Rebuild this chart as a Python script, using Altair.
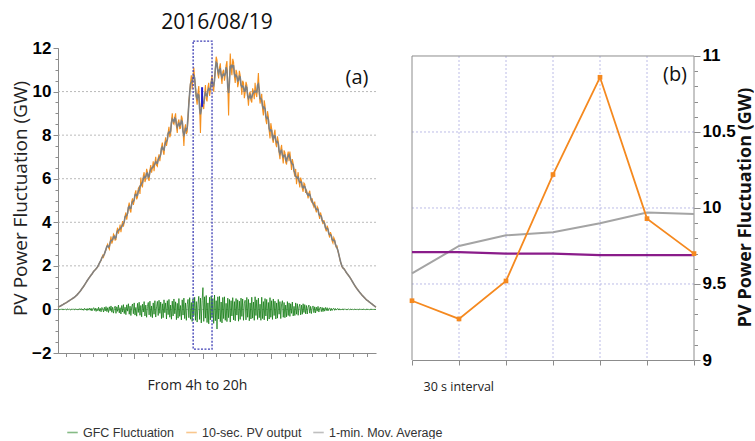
import altair as alt
import pandas as pd

# ---------------- left panel data (4h -> 20h, 2.5-min samples) ----------------
pv_10s = [
    0.10, 0.12, 0.14, 0.16, 0.18, 0.20, 0.22, 0.25, 0.27, 0.29, 0.31, 0.34, 0.36, 0.39, 0.41, 0.44, 0.46, 0.49, 0.51, 0.54,
    0.56, 0.60, 0.63, 0.67, 0.71, 0.76, 0.80, 0.85, 0.90, 0.96, 1.01, 1.06, 1.13, 1.18, 1.24, 1.31, 1.36, 1.42, 1.47, 1.53,
    1.58, 1.62, 1.68, 1.75, 1.78, 1.83, 1.86, 1.92, 1.95, 2.06, 2.12, 2.20, 2.25, 2.38, 2.48, 2.40, 2.56, 2.66, 2.74, 2.92,
    3.00, 2.84, 2.76, 3.12, 3.35, 3.02, 3.15, 3.46, 3.40, 3.18, 3.20, 3.58, 3.75, 3.48, 3.65, 3.90, 3.55, 3.82, 4.05, 3.80,
    4.00, 4.30, 4.45, 4.12, 4.40, 4.72, 4.90, 4.55, 4.45, 4.95, 5.10, 4.80, 4.98, 5.32, 5.47, 5.05, 5.15, 5.55, 5.62, 5.30,
    6.05, 5.72, 5.60, 6.12, 6.30, 5.85, 5.98, 6.45, 6.30, 6.02, 5.90, 6.40, 6.63, 6.28, 6.49, 6.80, 6.34, 6.70, 7.00, 6.62,
    6.57, 6.95, 7.12, 6.80, 7.11, 7.45, 7.66, 7.25, 7.10, 7.62, 7.90, 7.50, 7.74, 8.12, 8.38, 7.90, 8.03, 8.65, 9.00, 8.55,
    8.50, 8.82, 9.00, 8.40, 8.10, 8.60, 8.72, 8.30, 8.32, 8.90, 8.77, 8.20, 7.50, 8.30, 8.50, 8.05, 8.15, 8.80, 9.55, 9.90,
    10.40, 10.75, 10.10, 10.65, 11.10, 10.55, 10.20, 9.70, 9.40, 9.95, 10.25, 9.30, 8.10, 9.45, 9.90, 9.35, 9.20, 9.85, 10.30, 9.65,
    9.55, 10.20, 10.40, 9.80, 10.05, 10.50, 10.75, 10.25, 10.00, 10.60, 10.95, 11.60, 11.45, 10.80, 10.60, 11.10, 11.30, 10.70, 10.35, 10.90,
    11.00, 10.50, 10.75, 11.20, 11.40, 10.30, 8.90, 10.60, 11.75, 11.10, 10.75, 11.50, 11.35, 10.70, 10.40, 11.00, 10.85, 10.20, 10.40, 10.95,
    10.75, 10.30, 9.85, 10.50, 10.40, 9.70, 9.95, 10.45, 10.30, 9.80, 9.35, 9.90, 10.00, 9.60, 9.50, 10.15, 10.00, 9.65, 10.40, 9.90,
    9.75, 10.30, 10.85, 9.90, 9.45, 9.70, 9.90, 9.20, 8.90, 9.60, 9.35, 8.70, 8.50, 9.10, 8.85, 8.20, 7.85, 8.55, 8.30, 7.80,
    7.65, 8.05, 8.25, 7.60, 7.45, 7.95, 7.70, 7.20, 6.90, 7.35, 7.55, 7.00, 6.70, 7.30, 7.20, 6.75, 6.65, 7.05, 7.25, 6.80,
    7.25, 6.85, 6.40, 6.90, 6.70, 6.30, 6.10, 6.45, 5.75, 6.05, 6.30, 5.85, 5.60, 6.05, 5.90, 5.55, 5.40, 5.80, 5.75, 5.35,
    5.50, 5.30, 5.10, 5.35, 5.45, 5.05, 4.95, 5.10, 4.80, 4.70, 4.95, 4.60, 4.45, 4.72, 4.65, 4.35, 4.15, 4.45, 4.30, 4.05,
    3.92, 4.10, 3.97, 3.70, 3.58, 3.85, 3.73, 3.45, 3.30, 3.55, 3.43, 3.15, 3.05, 3.30, 3.20, 2.95, 2.85, 2.90, 2.68, 2.55,
    2.38, 2.20, 2.08, 1.96, 1.90, 1.88, 1.84, 1.76, 1.70, 1.65, 1.60, 1.55, 1.50, 1.44, 1.38, 1.31, 1.25, 1.18, 1.12, 1.06,
    1.00, 0.95, 0.90, 0.85, 0.80, 0.75, 0.71, 0.66, 0.62, 0.58, 0.54, 0.50, 0.46, 0.43, 0.40, 0.37, 0.34, 0.31, 0.28, 0.25,
    0.22, 0.19, 0.16, 0.13, 0.10,
]

gfc = [
    0.00, 0.01, -0.01, 0.00, 0.01, -0.01, 0.02, -0.01, 0.00, 0.01, -0.02, 0.01, 0.02, -0.01, 0.01, -0.02, 0.00, 0.02, -0.01, 0.01,
    -0.02, 0.03, -0.01, 0.02, -0.03, 0.01, 0.03, -0.02, 0.04, -0.03, 0.02, -0.04, 0.05, -0.02, 0.03, -0.05, 0.04, -0.03, 0.06, -0.04,
    0.05, -0.07, 0.03, 0.08, -0.05, 0.06, -0.09, 0.04, -0.06, 0.10, -0.08, 0.05, -0.11, 0.09, 0.03, -0.12, 0.10, -0.07, 0.13, -0.10,
    0.08, -0.14, 0.12, -0.06, 0.16, -0.13, 0.10, -0.17, 0.05, 0.15, -0.18, 0.12, -0.09, 0.20, -0.16, 0.08, -0.21, 0.18, -0.12, 0.22,
    -0.19, 0.10, -0.24, 0.21, -0.08, 0.26, -0.22, 0.15, -0.28, 0.12, 0.25, -0.20, 0.30, -0.26, 0.09, -0.31, 0.28, -0.14, 0.33, -0.27,
    0.18, -0.34, 0.24, -0.12, 0.36, -0.30, 0.20, -0.36, 0.14, 0.32, -0.25, 0.38, -0.33, 0.16, -0.38, 0.30, -0.22, 0.40, -0.35, 0.12,
    0.37, -0.28, 0.42, -0.18, 0.34, -0.42, 0.26, -0.38, 0.44, -0.15, 0.30, -0.44, 0.40, -0.24, 0.46, -0.36, 0.20, -0.45, 0.38, -0.30,
    0.48, -0.20, 0.35, -0.47, 0.28, -0.40, 0.50, -0.32, 0.18, -0.48, 0.44, -0.26, 0.52, -0.42, 0.30, -0.50, 0.22, 0.46, -0.38, 0.54,
    -0.45, 0.32, -0.55, 0.48, -0.28, 0.56, -0.50, 0.36, -0.58, 0.24, 0.60, -0.46, 0.52, -0.62, 0.40, 1.00, -0.55, 0.58, -0.40, 0.64,
    -0.60, 0.30, -0.66, 0.56, -0.48, 0.62, -0.35, 0.50, -0.64, 0.66, -0.52, 0.40, -0.90, 0.58, -0.44, 0.60, -0.56, 0.34, -0.62, 0.55,
    -0.42, 0.58, -0.50, 0.28, -0.56, 0.52, -0.38, 0.46, -0.58, 0.40, -0.30, 0.54, -0.48, 0.36, -0.52, 0.50, -0.26, 0.44, -0.54, 0.38,
    -0.46, 0.52, -0.32, 0.48, -0.50, 0.26, 0.42, -0.48, 0.55, -0.36, 0.46, -0.52, 0.30, -0.44, 0.56, -0.40, 0.34, -0.50, 0.58, -0.28,
    0.44, -0.46, 0.52, -0.38, 0.24, -0.50, 0.56, -0.42, 0.36, -0.48, 0.50, -0.30, 0.46, -0.52, 0.32, -0.44, 0.54, -0.36, 0.40, -0.46,
    0.48, -0.28, 0.38, -0.44, 0.30, -0.40, 0.46, -0.22, 0.36, -0.42, 0.26, 0.40, -0.36, 0.32, -0.38, 0.20, -0.34, 0.36, -0.28, 0.30,
    -0.32, 0.26, -0.18, 0.34, -0.30, 0.14, -0.28, 0.30, -0.22, 0.26, -0.27, 0.12, 0.24, -0.25, 0.20, -0.22, 0.26, -0.14, 0.22, -0.20,
    0.18, -0.21, 0.10, 0.20, -0.17, 0.14, -0.19, 0.08, 0.16, -0.15, 0.12, -0.16, 0.10, -0.08, 0.14, -0.12, 0.06, 0.11, -0.10, 0.09,
    -0.10, 0.07, -0.08, 0.09, -0.05, 0.08, -0.07, 0.04, 0.06, -0.06, 0.05, -0.05, 0.03, 0.05, -0.04, 0.04, -0.03, 0.02, 0.04, -0.03,
    0.03, -0.03, 0.02, -0.02, 0.03, -0.02, 0.01, 0.02, -0.02, 0.01, -0.01, 0.02, -0.01, 0.01, 0.00, -0.01, 0.01, -0.01, 0.01, 0.00,
    -0.01, 0.01, 0.00, -0.01, 0.01, 0.00, 0.01, -0.01, 0.00, 0.01, 0.00, -0.01, 0.00, 0.01, 0.00, 0.00, -0.01, 0.00, 0.01, 0.00,
    0.00, 0.00, 0.00, 0.00, 0.00,
]

hours = [4 + i * 2.5 / 60 for i in range(len(pv_10s))]

box_hours = [10.8, 11.75]
box_gw = [-1.82, 12.32]
seg_hour = [11.25]
seg_gw = [9.3, 10.2]
grid_gw = [0, 2, 4, 6, 8, 10]
y_major = [-2, 0, 2, 4, 6, 8, 10, 12]
y_minor = [-2, -1.5, -1, -0.5, 0, 0.5, 1, 1.5, 2, 2.5, 3, 3.5, 4, 4.5, 5, 5.5,
           6, 6.5, 7, 7.5, 8, 8.5, 9, 9.5, 10, 10.5, 11, 11.5, 12]
x_minor = [4.40, 5.09, 5.78, 6.46, 7.15, 7.84, 8.53, 9.21, 9.90, 10.59, 11.28, 11.96,
           12.65, 13.34, 14.03, 14.71, 15.40, 16.09, 16.78, 17.46, 18.15, 18.84, 19.53]
x_major = [7.84, 11.28, 14.71, 18.15]

series_names = ["GFC Fluctuation", "10-sec. PV output", "1-min. Mov. Average"]
series_colors = ["#0e7a0e", "#f5901e", "#808080"]

# ---------------- right panel data (30 s interval zoom) ----------------
interval = [0, 1, 2, 3, 4, 5, 6]
pv_30s = [9.39, 9.27, 9.52, 10.22, 10.86, 9.93, 9.70]
mov_30s = [9.57, 9.75, 9.82, 9.84, 9.90, 9.97, 9.96]
ref_30s = [9.71, 9.71, 9.70, 9.70, 9.69, 9.69, 9.69]
r_vgrid = [1, 2, 3, 4, 5]
r_hgrid = [9.5, 10, 10.5]
r_major = [9, 9.5, 10, 10.5, 11]
r_minor = [9.0, 9.1, 9.2, 9.3, 9.4, 9.5, 9.6, 9.7, 9.8, 9.9, 10.0,
           10.1, 10.2, 10.3, 10.4, 10.5, 10.6, 10.7, 10.8, 10.9, 11.0]

AX = "#8c8c8c"

# ============================ LEFT PANEL ============================
df = pd.DataFrame({"t": hours, "pv": pv_10s, "gfc": gfc})
xs = alt.Scale(domain=[4, 20], nice=False, zero=False)
ys = alt.Scale(domain=[-2, 12], nice=False, zero=False)
cscale = alt.Scale(domain=series_names, range=series_colors)

legend = alt.Legend(
    title=None, orient="none", legendX=8, legendY=378, direction="horizontal",
    symbolType="stroke", symbolSize=110, symbolStrokeWidth=1.6, symbolOpacity=0.5,
    labelFont="Liberation Sans", labelFontSize=12.5, labelColor="#333333",
    columnPadding=8, labelOffset=4,
)


def col():
    return alt.Color("series:N", scale=cscale, legend=legend)


grid_l = alt.Chart(pd.DataFrame({"g": grid_gw})).mark_rule(
    color="#a8a8a8", strokeDash=[2, 2], strokeWidth=0.8
).encode(y=alt.Y("g:Q", scale=ys, axis=None))

green = alt.Chart(df).transform_calculate(series="'GFC Fluctuation'").mark_line(
    strokeWidth=0.9, strokeOpacity=0.85
).encode(
    x=alt.X("t:Q", scale=xs, axis=alt.Axis(
        values=x_major, labels=False, tickSize=5.5, tickColor=AX, domainColor=AX,
        grid=False, orient="bottom",
        title="From 4h to 20h", titleFont="Open Sans", titleFontSize=14,
        titleFontWeight="normal", titleColor="#222222",
        titleX=139, titleY=32, titleAlign="center", titleBaseline="middle")),
    y=alt.Y("gfc:Q", scale=ys, axis=alt.Axis(
        values=y_major, format="d", orient="left",
        labelFont="Liberation Sans", labelFontWeight="bold", labelFontSize=17,
        labelColor="black", labelPadding=2, tickSize=5, tickColor=AX, domainColor=AX,
        grid=False,
        title="PV Power Fluctuation (GW)", titleFont="Open Sans", titleFontSize=19,
        titleFontWeight="normal", titleColor="#222222", titleAngle=270,
        titleX=-38, titleY=150, titleAlign="center", titleBaseline="middle")),
    color=col(),
)

orange = alt.Chart(df).transform_calculate(series="'10-sec. PV output'").mark_line(
    strokeWidth=1.1
).encode(
    x=alt.X("t:Q", scale=xs, axis=alt.Axis(
        values=x_minor, labels=False, tickSize=3.5, tickColor=AX, domain=False,
        grid=False, title=None, orient="bottom")),
    y=alt.Y("pv:Q", scale=ys, axis=alt.Axis(
        values=y_minor, labels=False, tickSize=3, tickColor=AX, domain=False,
        grid=False, title=None, orient="left")),
    color=col(),
)

gray = alt.Chart(df).transform_window(
    ma="mean(pv)", frame=[-1, 1], sort=[alt.SortField("t")]
).transform_calculate(series="'1-min. Mov. Average'").mark_line(strokeWidth=1.6).encode(
    x=alt.X("t:Q", scale=xs, axis=None),
    y=alt.Y("ma:Q", scale=ys, axis=None),
    color=col(),
)

box = alt.Chart(pd.DataFrame({"t0": [box_hours[0]], "t1": [box_hours[1]],
                              "g0": [box_gw[0]], "g1": [box_gw[1]]})).mark_rect(
    fill="transparent", stroke="#3c3cb4", strokeDash=[2, 1.5], strokeWidth=1.3, clip=False
).encode(
    x=alt.X("t0:Q", scale=xs, axis=None), x2="t1:Q",
    y=alt.Y("g0:Q", scale=ys, axis=None), y2="g1:Q",
)

seg = alt.Chart(pd.DataFrame({"t": seg_hour, "g0": [seg_gw[0]], "g1": [seg_gw[1]]})).mark_rule(
    color="#2020d0", strokeWidth=2
).encode(
    x=alt.X("t:Q", scale=xs, axis=None),
    y=alt.Y("g0:Q", scale=ys, axis=None), y2="g1:Q",
)

txt_a = alt.Chart(pd.DataFrame({"s": ["(a)"]})).mark_text(
    font="Open Sans", fontSize=20, color="#111111", align="center", baseline="middle"
).encode(text="s:N", x=alt.value(299), y=alt.value(30))

txt_date = alt.Chart(pd.DataFrame({"s": ["2016/08/19"]})).mark_text(
    font="Open Sans", fontSize=21, color="#111111", align="center", baseline="middle"
).encode(text="s:N", x=alt.value(159), y=alt.value(-25))

left = alt.layer(grid_l, green, orange, gray, box, seg, txt_a, txt_date).resolve_axis(
    x="independent", y="independent"
).properties(width=318, height=305)

# ============================ RIGHT PANEL ============================
rdf = pd.DataFrame({"i": interval, "pv": pv_30s, "ma": mov_30s, "ref": ref_30s})
rx = alt.Scale(domain=[0, 6], nice=False, zero=False)
ry = alt.Scale(domain=[9, 11.0526], nice=False, zero=False)
GRID_R = "#b4b4e4"

vgrid = alt.Chart(pd.DataFrame({"v": r_vgrid})).mark_rule(
    color=GRID_R, strokeDash=[2, 2], strokeWidth=0.9
).encode(x=alt.X("v:Q", scale=rx, axis=None), y=alt.value(8), y2=alt.value(312))

hgrid = alt.Chart(pd.DataFrame({"h": r_hgrid})).mark_rule(
    color=GRID_R, strokeDash=[2, 2], strokeWidth=0.9
).encode(y=alt.Y("h:Q", scale=ry, axis=None))

frame_df = pd.DataFrame({"x0": [0, 0, 6], "x1": [6, 0, 6], "y0": [11, 9, 9], "y1": [11, 11, 11]})
frame = alt.Chart(frame_df).mark_rule(color=AX, strokeWidth=1).encode(
    x=alt.X("x0:Q", scale=rx, axis=None), x2="x1:Q",
    y=alt.Y("y0:Q", scale=ry, axis=None), y2="y1:Q",
)

gray_r = alt.Chart(rdf).mark_line(color="#a4a4a4", strokeWidth=2).encode(
    x=alt.X("i:Q", scale=rx, axis=alt.Axis(
        values=interval, labels=False, tickSize=5, tickColor=AX, domainColor=AX,
        grid=False, orient="bottom",
        title="30 s interval", titleFont="Open Sans", titleFontSize=12.5,
        titleFontWeight="normal", titleColor="#222222",
        titleX=11, titleY=26, titleAlign="left", titleBaseline="middle")),
    y=alt.Y("ma:Q", scale=ry, axis=alt.Axis(
        values=r_major, format="~g", orient="right",
        labelFont="Liberation Sans", labelFontWeight="bold", labelFontSize=17,
        labelColor="black", labelPadding=2, tickSize=6, tickColor=AX, domain=False,
        grid=False,
        title="PV Power Fluctuation (GW)", titleFont="Open Sans", titleFontSize=18,
        titleFontWeight="bold", titleColor="#111111", titleAngle=270,
        titleX=51, titleY=159, titleAlign="center", titleBaseline="middle")),
)

purple_r = alt.Chart(rdf).mark_line(color="#8a1c8a", strokeWidth=2.2).encode(
    x=alt.X("i:Q", scale=rx, axis=None),
    y=alt.Y("ref:Q", scale=ry, axis=alt.Axis(
        values=r_minor, labels=False, tickSize=3.5, tickColor=AX, domain=False,
        grid=False, title=None, orient="right")),
)

orange_r = alt.Chart(rdf).mark_line(
    color="#f5891f", strokeWidth=1.8,
    point=alt.OverlayMarkDef(shape="square", size=22, filled=True, color="#f5891f"),
).encode(
    x=alt.X("i:Q", scale=rx, axis=None),
    y=alt.Y("pv:Q", scale=ry, axis=None),
)

txt_b = alt.Chart(pd.DataFrame({"s": ["(b)"]})).mark_text(
    font="Open Sans", fontSize=20, color="#111111", align="center", baseline="middle"
).encode(text="s:N", x=alt.value(263), y=alt.value(27))

right = alt.layer(vgrid, hgrid, frame, gray_r, purple_r, orange_r, txt_b).resolve_axis(
    x="independent", y="independent"
).properties(width=282, height=312)

chart = alt.hconcat(left, right, spacing=36, bounds="flush").properties(
    padding={"left": 10, "top": 12, "right": 0, "bottom": 0}
).configure_view(stroke=None)

chart.save("out.html", embed_options={"renderer": "svg", "actions": False})
